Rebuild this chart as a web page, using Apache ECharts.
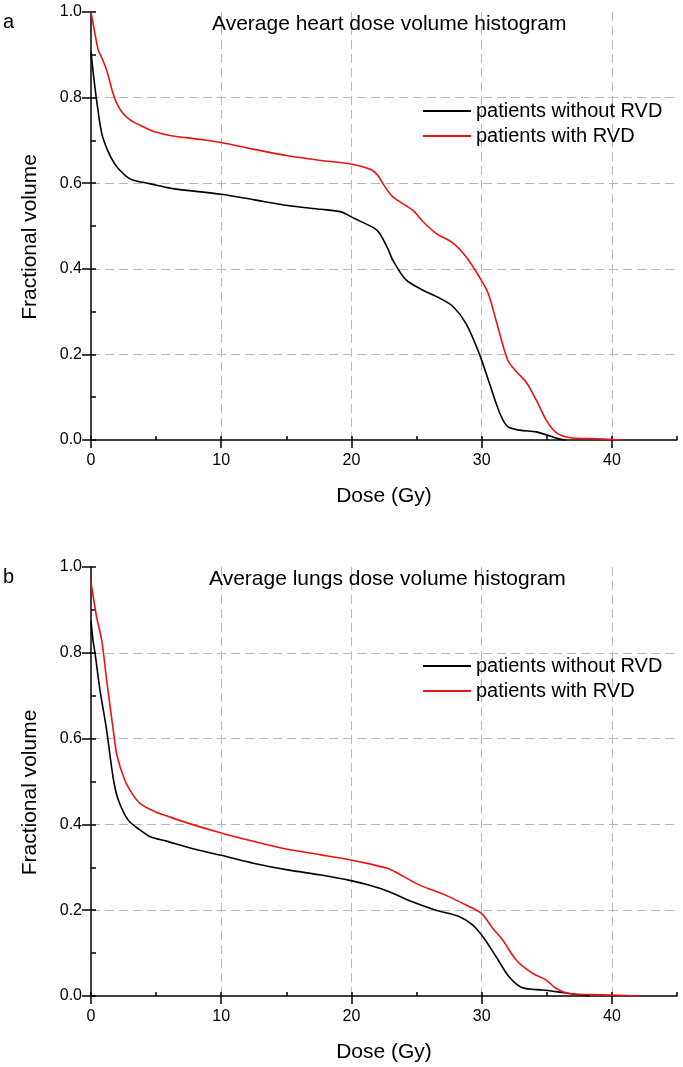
<!DOCTYPE html>
<html lang="en">
<head>
  <meta charset="UTF-8">
  <title>Average dose volume histograms</title>
  <script src="https://cdn.jsdelivr.net/npm/echarts@6/dist/echarts.min.js"></script>
  <style>
    body { margin: 0; background: #fff; }
    #chart { width: 683px; height: 1067px; }
  </style>
</head>
<body>
<div id="chart"></div>
<script>
  // heart DVH (panel a)
  let heartDoseNo = [0, 0.2, 0.43, 0.82, 1.3, 1.82, 2.2, 2.84, 3.25, 4.5, 6.16, 10, 12.55, 15.1, 17.66, 19.2, 20.2, 21.75, 22.16, 22.78, 23.18, 24.2, 25.5, 26.8, 27.8, 28.8, 29.8, 30.6, 31.4, 32.0, 32.9, 34.2, 34.95, 36.0, 36.5];
  let heartVolNo = [0.907, 0.85, 0.794, 0.717, 0.675, 0.645, 0.631, 0.613, 0.607, 0.599, 0.588, 0.574, 0.561, 0.548, 0.539, 0.533, 0.518, 0.495, 0.483, 0.448, 0.42, 0.374, 0.35, 0.331, 0.312, 0.272, 0.203, 0.132, 0.062, 0.031, 0.023, 0.019, 0.012, 0.002, 0];
  let heartDoseYes = [0, 0.3, 0.56, 0.79, 1.2, 1.69, 1.97, 2.4, 3.0, 4.0, 4.88, 6.16, 8.72, 10, 12.55, 15.1, 17.66, 19.96, 21.5, 22.0, 22.5, 23.18, 24.7, 25.5, 26.5, 27.8, 28.8, 29.8, 30.5, 31.1, 32.0, 32.65, 33.4, 34.2, 34.95, 35.7, 36.7, 38.8, 40.8];
  let heartVolYes = [1.0, 0.95, 0.911, 0.896, 0.864, 0.81, 0.787, 0.765, 0.748, 0.732, 0.72, 0.711, 0.701, 0.695, 0.679, 0.664, 0.653, 0.645, 0.632, 0.619, 0.595, 0.568, 0.537, 0.51, 0.483, 0.46, 0.428, 0.382, 0.343, 0.28, 0.187, 0.16, 0.136, 0.093, 0.047, 0.018, 0.006, 0.003, 0];

  // lungs DVH (panel b)
  let lungDoseNo = [0, 0.15, 0.31, 0.69, 1.2, 1.71, 2.1, 2.86, 3.76, 4.5, 5.8, 8.0, 10, 12.55, 15.1, 17.66, 19.96, 21.4, 22.9, 24.46, 26.5, 28.3, 29.3, 30.1, 31.1, 32.1, 33.15, 34.7, 36.0, 37.2, 38.3];
  let lungVolNo = [0.875, 0.83, 0.799, 0.713, 0.62, 0.507, 0.457, 0.41, 0.387, 0.372, 0.361, 0.342, 0.328, 0.309, 0.294, 0.282, 0.269, 0.258, 0.243, 0.222, 0.2, 0.185, 0.166, 0.138, 0.092, 0.045, 0.019, 0.014, 0.009, 0.004, 0];
  let lungDoseYes = [0, 0.43, 0.82, 1.2, 1.71, 2.0, 2.6, 3.2, 3.76, 4.88, 5.8, 7.44, 10, 12.55, 15.1, 17.66, 19.96, 21.4, 22.8, 23.44, 25.2, 27.3, 28.8, 29.96, 30.85, 31.6, 32.65, 33.9, 34.95, 35.7, 36.7, 39.3, 42.1];
  let lungVolYes = [0.965, 0.884, 0.83, 0.737, 0.62, 0.56, 0.503, 0.47, 0.449, 0.43, 0.42, 0.403, 0.38, 0.36, 0.342, 0.329, 0.317, 0.308, 0.297, 0.288, 0.259, 0.234, 0.212, 0.193, 0.158, 0.131, 0.084, 0.053, 0.037, 0.018, 0.006, 0.003, 0];

  let seriesNames = ['patients without RVD', 'patients with RVD'];
  let panelTitles = ['Average heart dose volume histogram', 'Average lungs dose volume histogram'];
  let panelLetters = ['a', 'b'];
  let xTicks = [0, 10, 20, 30, 40];

  const font = "'Liberation Sans', Arial, sans-serif";
  const gridTops = [12, 567];
  const gridHeights = [428, 429];

  function pairs(xs, ys) {
    return xs.map(function (x, i) { return [x, ys[i]]; });
  }

  let grids = [], xAxes = [], yAxes = [], series = [], titles = [], legends = [], graphics = [];

  gridTops.forEach(function (top, g) {
    grids.push({left: 91, right: 6, top: top, height: gridHeights[g]});

    // major x axis
    xAxes.push({
      type: 'value', gridIndex: g, min: 0, max: 45, interval: 10,
      name: 'Dose (Gy)', nameLocation: 'middle', nameGap: 46,
      nameTextStyle: {fontFamily: font, fontSize: 21, color: '#000'},
      axisLine: {lineStyle: {color: '#000', width: 1.5}},
      axisTick: {length: 8, customValues: xTicks, lineStyle: {color: '#000', width: 1.5}},
      axisLabel: {
        margin: 13, fontFamily: font, fontSize: 16, color: '#000',
        formatter: function (v) { return v % 10 === 0 ? String(v) : ''; }
      },
      splitLine: {show: true, showMinLine: false, lineStyle: {color: '#b8b8b8', type: [9, 5], width: 1}}
    });
    // minor x ticks
    xAxes.push({
      type: 'value', gridIndex: g, min: 0, max: 45, interval: 5,
      axisLine: {show: false},
      axisTick: {length: 4, lineStyle: {color: '#000', width: 1.5}},
      axisLabel: {show: false},
      splitLine: {show: false}
    });

    // major y axis
    yAxes.push({
      type: 'value', gridIndex: g, min: 0, max: 1, interval: 0.2,
      axisLine: {show: true, lineStyle: {color: '#000', width: 1.5}},
      axisTick: {show: true, length: 9, lineStyle: {color: '#000', width: 1.5}},
      axisLabel: {
        margin: 9, fontFamily: font, fontSize: 16, color: '#000',
        formatter: function (v) { return v.toFixed(1); }
      },
      splitLine: {show: true, showMinLine: false, showMaxLine: false, lineStyle: {color: '#b8b8b8', type: [9, 5], width: 1}}
    });
    // minor y ticks
    yAxes.push({
      type: 'value', gridIndex: g, min: 0, max: 1, interval: 0.1,
      axisLine: {show: false},
      axisTick: {show: true, length: 5, lineStyle: {color: '#000', width: 1.5}},
      axisLabel: {show: false},
      splitLine: {show: false}
    });

    titles.push({
      text: panelTitles[g], left: g === 0 ? 212 : 209, top: top + 2, padding: 0,
      textStyle: {fontFamily: font, fontSize: 21, fontWeight: 'normal', color: '#000'}
    });
    titles.push({
      text: panelLetters[g], left: 3, top: top, padding: 0,
      textStyle: {fontFamily: font, fontSize: 20, fontWeight: 'normal', color: '#000'}
    });

    legends.push({
      data: seriesNames, orient: 'vertical', left: 423, top: top + 89, padding: 0,
      icon: 'rect', itemWidth: 48, itemHeight: 2, itemGap: 5,
      textStyle: {fontFamily: font, fontSize: 20, color: '#000', lineHeight: 20}
    });

    graphics.push({
      type: 'text', x: 30, y: top + gridHeights[g] / 2 + 11, rotation: Math.PI / 2,
      style: {text: 'Fractional volume', font: '21px ' + font, fill: '#000', align: 'center', verticalAlign: 'middle'}
    });
  });

  let panelData = [
    [pairs(heartDoseNo, heartVolNo), pairs(heartDoseYes, heartVolYes)],
    [pairs(lungDoseNo, lungVolNo), pairs(lungDoseYes, lungVolYes)]
  ];
  let colors = ['#000000', '#ee1111'];

  panelData.forEach(function (sets, g) {
    sets.forEach(function (data, s) {
      series.push({
        type: 'line', name: seriesNames[s], xAxisIndex: g * 2, yAxisIndex: g * 2,
        data: data, symbol: 'none', smooth: 0.3,
        itemStyle: {color: colors[s]},
        lineStyle: {color: colors[s], width: 1.6},
        animation: false
      });
    });
  });

  echarts.init(document.getElementById('chart')).setOption({
    backgroundColor: '#fff',
    animation: false,
    title: titles,
    legend: legends,
    grid: grids,
    xAxis: xAxes,
    yAxis: yAxes,
    graphic: graphics,
    series: series
  });
</script>
</body>
</html>
